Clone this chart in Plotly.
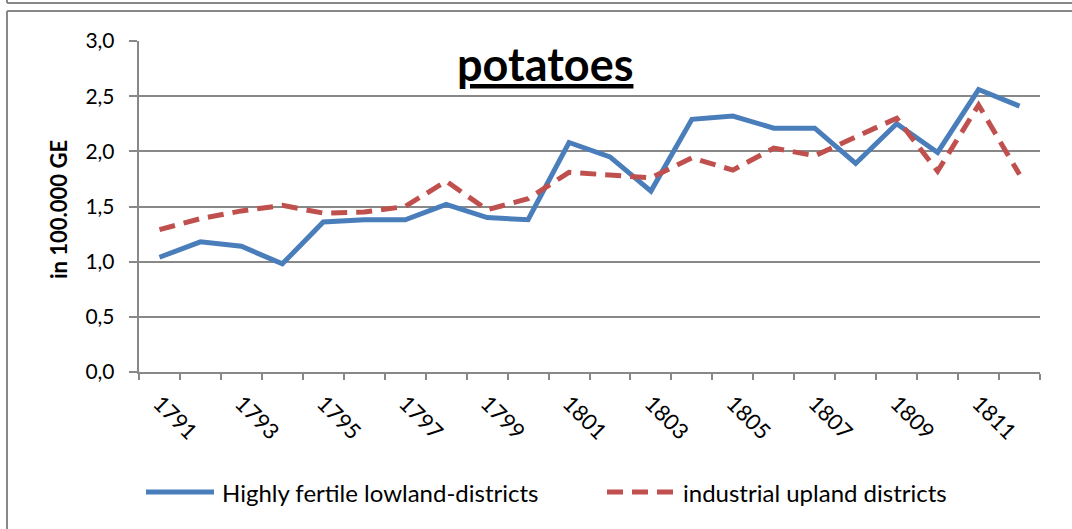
import plotly.graph_objects as go

# data
years = list(range(1791, 1813))
lowland = [1.04, 1.18, 1.14, 0.98, 1.36, 1.38, 1.38, 1.52, 1.40, 1.38, 2.08,
           1.95, 1.64, 2.29, 2.32, 2.21, 2.21, 1.89, 2.25, 1.99, 2.56, 2.41]
upland = [1.29, 1.39, 1.46, 1.51, 1.44, 1.45, 1.50, 1.73, 1.47, 1.57, 1.81,
          1.78, 1.76, 1.94, 1.83, 2.03, 1.96, 2.13, 2.30, 1.82, 2.42, 1.79]
name_low = "Highly fertile lowland-districts"
name_up = "industrial upland districts"
tick_years = list(range(1791, 1813, 2))

BLUE = "#4A7EBB"
RED = "#C0504D"
GRID = "#888888"
FONT = "Lato"

W, H = 1072, 529
L, R, T, B = 139, 1040, 41, 372  # plot area in pixels


def px(x):
    return (x - L) / (R - L)


def py(y):
    return (B - y) / (B - T)


fig = go.Figure()
fig.add_trace(go.Scatter(x=years, y=lowland, mode="lines", name=name_low,
                         line=dict(color=BLUE, width=5), showlegend=False))
fig.add_trace(go.Scatter(x=years, y=upland, mode="lines", name=name_up,
                         line=dict(color=RED, width=5, dash="16px,9px"),
                         showlegend=False))

fig.update_xaxes(
    range=[years[0] - 0.5, years[-1] + 0.5],
    tickvals=tick_years, ticktext=[str(y) for y in tick_years],
    tickangle=45, ticks="", showgrid=False, zeroline=False,
    showline=True, linecolor=GRID, linewidth=1.5, ticklabelstandoff=8,
    tickfont=dict(family=FONT, size=22, color="black"),
    minor=dict(tickvals=[y - 0.5 for y in years] + [years[-1] + 0.5],
               ticks="outside", ticklen=6, tickcolor=GRID, tickwidth=1.5,
               showgrid=False),
)
fig.update_yaxes(
    range=[0, 3], dtick=0.5, tickformat=".1f", ticksuffix="\u2002",
    ticks="outside", ticklen=8, tickcolor=GRID, tickwidth=1.5,
    showgrid=True, gridcolor=GRID, gridwidth=1.5, zeroline=False,
    showline=True, linecolor=GRID, linewidth=1.5,
    tickfont=dict(family=FONT, size=21, color="black"),
)

# y axis title
fig.add_annotation(text="<b>in 100.000 GE</b>", xref="paper", yref="paper",
                   x=px(58), y=py(210), xanchor="center", yanchor="middle",
                   textangle=-90, showarrow=False,
                   font=dict(family=FONT, size=22, color="black"))

# title inside the plot area
fig.add_annotation(text="<b><u>potatoes</u></b>", xref="paper", yref="paper",
                   x=px(545), y=py(64), xanchor="center", yanchor="middle",
                   showarrow=False,
                   font=dict(family=FONT, size=45, color="black"))

# frame lines of the chart box (and the box above it)
frame = dict(color=GRID, width=2)
fig.add_shape(type="line", xref="paper", yref="paper",
              x0=px(7), x1=px(1080), y0=py(11), y1=py(11), line=frame)
fig.add_shape(type="line", xref="paper", yref="paper",
              x0=px(7), x1=px(7), y0=py(11), y1=py(540), line=frame)
fig.add_shape(type="line", xref="paper", yref="paper",
              x0=px(7), x1=px(1080), y0=py(3), y1=py(3), line=frame)
fig.add_shape(type="line", xref="paper", yref="paper",
              x0=px(7), x1=px(7), y0=py(-5), y1=py(3), line=frame)

# legend drawn by hand to get the long line samples
fig.add_shape(type="line", xref="paper", yref="paper",
              x0=px(146), x1=px(214), y0=py(492), y1=py(492),
              line=dict(color=BLUE, width=5))
fig.add_shape(type="line", xref="paper", yref="paper",
              x0=px(607), x1=px(680), y0=py(492), y1=py(492),
              line=dict(color=RED, width=5, dash="16px,9px"))
fig.add_annotation(text=name_low, xref="paper", yref="paper",
                   x=px(220), y=py(492), xanchor="left", yanchor="middle",
                   showarrow=False,
                   font=dict(family=FONT, size=24, color="black"))
fig.add_annotation(text=name_up, xref="paper", yref="paper",
                   x=px(681), y=py(492), xanchor="left", yanchor="middle",
                   showarrow=False,
                   font=dict(family=FONT, size=24, color="black"))

fig.update_layout(
    width=W, height=H, autosize=False,
    margin=dict(l=L, r=W - R, t=T, b=H - B),
    paper_bgcolor="white", plot_bgcolor="white",
    separators=",.", showlegend=False,
)

fig.write_html("out.html", config={"displayModeBar": False},
               post_script="document.body.style.margin='0';"
                           "document.body.style.overflow='hidden';")
